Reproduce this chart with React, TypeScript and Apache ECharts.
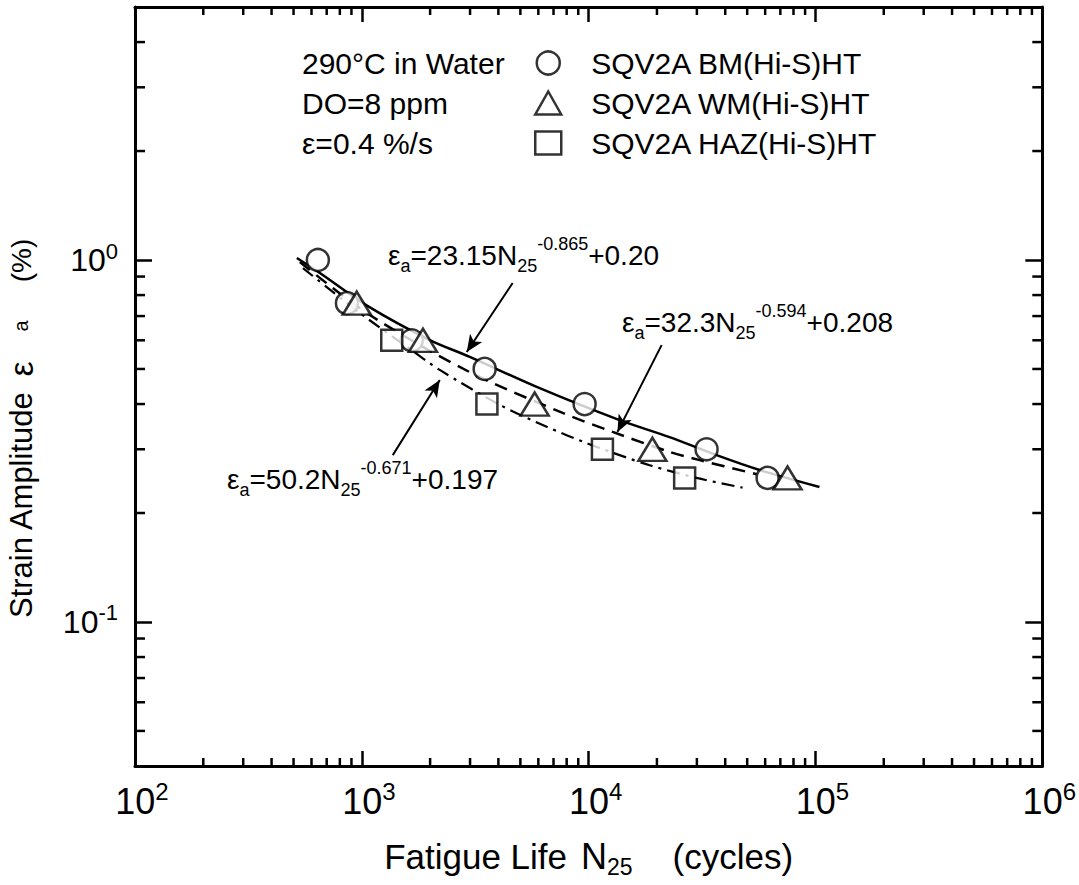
import React, { useEffect, useRef } from "react";
import * as echarts from "echarts";

const FONT = "'Liberation Sans', Arial, Helvetica, sans-serif";

// ---- measured data: fatigue life N25 (cycles) vs strain amplitude (%) ----
const bmLife = [640, 860, 1660, 3480, 9600, 33100, 61500];
const bmStrain = [1.0, 0.76, 0.6, 0.5, 0.4, 0.3, 0.25];
const wmLife = [950, 1860, 5780, 19100, 75300];
const wmStrain = [0.76, 0.6, 0.4, 0.3, 0.25];
const hazLife = [1355, 3560, 11500, 26500];
const hazStrain = [0.6, 0.4, 0.3, 0.25];

// ---- fitted curves ----
const bmFitLife = [517, 653, 1063, 1994, 2991, 5902, 13695, 22740, 36640, 56670, 104100];
const bmFitStrain = [1.013, 0.921, 0.746, 0.601, 0.54, 0.446, 0.361, 0.324, 0.289, 0.263, 0.236];
const wmFitLife = [533, 1084, 2991, 7684, 12757, 22740, 30830, 54950];
const wmFitStrain = [0.987, 0.705, 0.49, 0.378, 0.335, 0.295, 0.28, 0.256];
const hazFitLife = [550, 980, 1627, 2206, 4055, 6531, 9800, 13695, 18566, 29910, 47690];
const hazFitStrain = [0.95, 0.714, 0.568, 0.497, 0.398, 0.346, 0.312, 0.289, 0.271, 0.25, 0.235];

// ---- axis ticks ----
const xMin = 100;
const xMax = 1000000;
const yMin = 0.04;
const yMax = 5;
const xMinorTicks = [
  200, 300, 400, 500, 600, 700, 800, 900,
  2000, 3000, 4000, 5000, 6000, 7000, 8000, 9000,
  20000, 30000, 40000, 50000, 60000, 70000, 80000, 90000,
  200000, 300000, 400000, 500000, 600000, 700000, 800000, 900000,
];
const yMinorTicks = [0.05, 0.06, 0.07, 0.08, 0.09, 0.2, 0.3, 0.4, 0.5, 0.6, 0.7, 0.8, 0.9, 2, 3, 4];

// ---- texts ----
const seriesNames = ["SQV2A BM(Hi-S)HT", "SQV2A WM(Hi-S)HT", "SQV2A HAZ(Hi-S)HT"];
const conditionTexts = ["290°C in Water", "DO=8 ppm", "ε=0.4 %/s"];
const eqBM = "{m|ε}{b|a}{m|=23.15N}{b|25}{p|-0.865}{m|+0.20}";
const eqWM = "{m|ε}{b|a}{m|=32.3N}{b|25}{p|-0.594}{m|+0.208}";
const eqHAZ = "{m|ε}{b|a}{m|=50.2N}{b|25}{p|-0.671}{m|+0.197}";

// ---- annotation arrows (data coords: start -> tip) ----
const arrowBM = [[4625, 0.864], [2901, 0.557]];
const arrowWM = [[20970, 0.582], [13400, 0.335]];
const arrowHAZ = [[1369, 0.289], [2206, 0.466]];

const pairs = (a: number[], b: number[]) => a.map((v, i) => [v, b[i]]);

const isPow10 = (v: number) => {
  const e = Math.round(Math.log10(v));
  return Math.abs(v / Math.pow(10, e) - 1) < 1e-6 ? e : null;
};

export default function App() {
  const ref = useRef<HTMLDivElement>(null);

  useEffect(() => {
    if (!ref.current) return;
    const chart = echarts.init(ref.current, undefined, { renderer: "svg" });

    const hollow = { color: "#fff", borderColor: "#000", borderWidth: 2.5 };

    const eqRich = {
      m: { fontSize: 28, fontFamily: FONT, lineHeight: 40, fill: "#000" },
      b: { fontSize: 18, fontFamily: FONT, lineHeight: 14, verticalAlign: "bottom", fill: "#000" },
      p: { fontSize: 18, fontFamily: FONT, lineHeight: 12, verticalAlign: "top", fill: "#000" },
    };

    const axisCommonX = {
      type: "log",
      logBase: 10,
      min: xMin,
      max: xMax,
      splitLine: { show: false },
      minorTick: { show: false },
      minorSplitLine: { show: false },
      axisLine: { show: true, onZero: false, lineStyle: { color: "#000", width: 3 } },
      axisTick: { show: true, inside: true, length: 15, lineStyle: { color: "#000", width: 2.5 } },
    };
    const axisCommonY = {
      type: "log",
      logBase: 10,
      min: yMin,
      max: yMax,
      splitLine: { show: false },
      minorTick: { show: false },
      minorSplitLine: { show: false },
      axisLine: { show: true, onZero: false, lineStyle: { color: "#000", width: 3 } },
      axisTick: { show: true, inside: true, length: 17, lineStyle: { color: "#000", width: 2.5 } },
    };

    const xMinorRender = (params: any, api: any) => {
      const cs = params.coordSys;
      const x = api.coord([api.value(0), 1])[0];
      const top = cs.y;
      const bottom = cs.y + cs.height;
      return {
        type: "group",
        children: [
          { type: "line", shape: { x1: x, y1: bottom, x2: x, y2: bottom - 8 }, style: { stroke: "#000", lineWidth: 2.5 } },
          { type: "line", shape: { x1: x, y1: top, x2: x, y2: top + 8 }, style: { stroke: "#000", lineWidth: 2.5 } },
        ],
      };
    };
    const yMinorRender = (params: any, api: any) => {
      const cs = params.coordSys;
      const y = api.coord([1000, api.value(1)])[1];
      const left = cs.x;
      const right = cs.x + cs.width;
      return {
        type: "group",
        children: [
          { type: "line", shape: { x1: left, y1: y, x2: left + 10, y2: y }, style: { stroke: "#000", lineWidth: 2.5 } },
          { type: "line", shape: { x1: right, y1: y, x2: right - 10, y2: y }, style: { stroke: "#000", lineWidth: 2.5 } },
        ],
      };
    };

    const option: any = {
      animation: false,
      backgroundColor: "#fff",
      textStyle: { fontFamily: FONT, color: "#000" },
      grid: { left: 135, right: 36, top: 7, bottom: 119 },
      legend: {
        data: [
          { name: seriesNames[0], icon: "circle" },
          { name: seriesNames[1], icon: "triangle" },
          { name: seriesNames[2], icon: "rect" },
        ],
        orient: "vertical",
        left: 529,
        top: 43,
        itemWidth: 26,
        itemHeight: 23,
        itemGap: 10,
        selectedMode: false,
        itemStyle: { color: "#fff", borderColor: "#000", borderWidth: 2.5 },
        textStyle: { fontSize: 30, fontFamily: FONT, color: "#000", lineHeight: 30, padding: [0, 0, 0, 25] },
      },
      xAxis: [
        {
          ...axisCommonX,
          position: "bottom",
          axisLabel: {
            margin: 13,
            formatter: (v: number) => {
              const e = isPow10(v);
              return e === null ? "" : `{sp|}{b|10}{s|${e}}`;
            },
            rich: {
              sp: { width: 14 },
              b: { fontSize: 36, fontFamily: FONT, lineHeight: 44, color: "#000" },
              s: { fontSize: 24, fontFamily: FONT, lineHeight: 13, verticalAlign: "top", color: "#000" },
            },
          },
          name: "{m|Fatigue Life}{g0|}{n|N}{s|25}{g|}{m|(cycles)}",
          nameLocation: "middle",
          nameGap: 68,
          nameTextStyle: {
            rich: {
              m: { fontSize: 35, fontFamily: FONT, lineHeight: 44, color: "#000" },
              n: { fontSize: 36, fontFamily: FONT, lineHeight: 44, color: "#000" },
              s: { fontSize: 23, fontFamily: FONT, lineHeight: 14, verticalAlign: "bottom", color: "#000" },
              g0: { width: 14 },
              g: { width: 40 },
            },
          },
        },
        { ...axisCommonX, position: "top", axisLabel: { show: false } },
      ],
      yAxis: [
        {
          ...axisCommonY,
          position: "left",
          axisLabel: {
            margin: 17,
            formatter: (v: number) => {
              const e = isPow10(v);
              return e === null ? "" : `{b|10}{s|${e}}`;
            },
            rich: {
              b: { fontSize: 32, fontFamily: FONT, lineHeight: 40, color: "#000" },
              s: { fontSize: 22, fontFamily: FONT, lineHeight: 12, verticalAlign: "top", color: "#000" },
            },
          },
        },
        { ...axisCommonY, position: "right", axisLabel: { show: false } },
      ],
      series: [
        {
          name: "BM fit",
          type: "line",
          data: pairs(bmFitLife, bmFitStrain),
          showSymbol: false,
          smooth: 0.3,
          lineStyle: { color: "#000", width: 2.5, type: "solid" },
          z: 2,
          markLine: {
            silent: true,
            symbol: ["none", "arrow"],
            symbolSize: [11, 17],
            label: { show: false },
            emphasis: { disabled: true },
            lineStyle: { color: "#000", width: 2, type: "solid" },
            data: [arrowBM, arrowWM, arrowHAZ].map((a) => [{ coord: a[0] }, { coord: a[1] }]),
          },
        },
        {
          name: "WM fit",
          type: "line",
          data: pairs(wmFitLife, wmFitStrain),
          showSymbol: false,
          smooth: 0.3,
          lineStyle: { color: "#000", width: 2.5, type: [13, 8] },
          z: 2,
        },
        {
          name: "HAZ fit",
          type: "line",
          data: pairs(hazFitLife, hazFitStrain),
          showSymbol: false,
          smooth: 0.3,
          lineStyle: { color: "#000", width: 2.2, type: [13, 6, 3, 6] },
          z: 2,
        },
        {
          name: seriesNames[0],
          type: "scatter",
          data: pairs(bmLife, bmStrain),
          symbol: "circle",
          symbolSize: 22,
          itemStyle: hollow,
          z: 4,
        },
        {
          name: seriesNames[1],
          type: "scatter",
          data: pairs(wmLife, wmStrain),
          symbol: "triangle",
          symbolSize: [28, 23],
          itemStyle: hollow,
          z: 4,
        },
        {
          name: seriesNames[2],
          type: "scatter",
          data: pairs(hazLife, hazStrain),
          symbol: "rect",
          symbolSize: 21,
          itemStyle: hollow,
          z: 4,
        },
        {
          name: "x minor ticks",
          type: "custom",
          coordinateSystem: "cartesian2d",
          xAxisIndex: 0,
          yAxisIndex: 0,
          silent: true,
          clip: false,
          z: 6,
          encode: { x: 0, y: 1 },
          data: xMinorTicks.map((v) => [v, 1]),
          renderItem: xMinorRender,
        },
        {
          name: "y minor ticks",
          type: "custom",
          coordinateSystem: "cartesian2d",
          xAxisIndex: 0,
          yAxisIndex: 0,
          silent: true,
          clip: false,
          z: 6,
          encode: { x: 0, y: 1 },
          data: yMinorTicks.map((v) => [1000, v]),
          renderItem: yMinorRender,
        },
      ],
      graphic: [
        ...conditionTexts.map((t, i) => ({
          type: "text",
          x: 302,
          y: 63 + i * 40,
          style: {
            text: t,
            fill: "#000",
            fontSize: 30,
            fontFamily: FONT,
            align: "left",
            verticalAlign: "middle",
            textAlign: "left",
            textVerticalAlign: "middle",
          },
        })),
        ...[
          { t: eqBM, x: 388, y: 255 },
          { t: eqWM, x: 622, y: 322 },
          { t: eqHAZ, x: 227, y: 479 },
        ].map((e) => ({
          type: "text",
          x: e.x,
          y: e.y,
          style: {
            text: e.t,
            rich: eqRich,
            fill: "#000",
            fontSize: 28,
            fontFamily: FONT,
            align: "left",
            verticalAlign: "middle",
            textAlign: "left",
            textVerticalAlign: "middle",
          },
        })),
        {
          type: "text",
          x: 21,
          y: 618,
          rotation: Math.PI / 2,
          style: {
            text: "{m|Strain Amplitude}{g|}{e|ε}{g2|}{s|a}{g3|}{q|(%)}",
            fill: "#000",
            fontSize: 31,
            fontFamily: FONT,
            align: "left",
            verticalAlign: "middle",
            textAlign: "left",
            textVerticalAlign: "middle",
            rich: {
              m: { fontSize: 31, fontFamily: FONT, lineHeight: 36, fill: "#000" },
              q: { fontSize: 28, fontFamily: FONT, lineHeight: 36, fill: "#000" },
              e: { fontSize: 34, fontFamily: FONT, lineHeight: 36, fill: "#000" },
              s: { fontSize: 20, fontFamily: FONT, lineHeight: 36, fill: "#000" },
              g: { width: 14 },
              g2: { width: 30 },
              g3: { width: 38 },
            },
          },
        },
      ],
    };

    chart.setOption(option);
    return () => chart.dispose();
  }, []);

  return (
    <div
      ref={ref}
      style={{ position: "absolute", left: 0, top: 0, width: 1079, height: 885, background: "#fff" }}
    />
  );
}
